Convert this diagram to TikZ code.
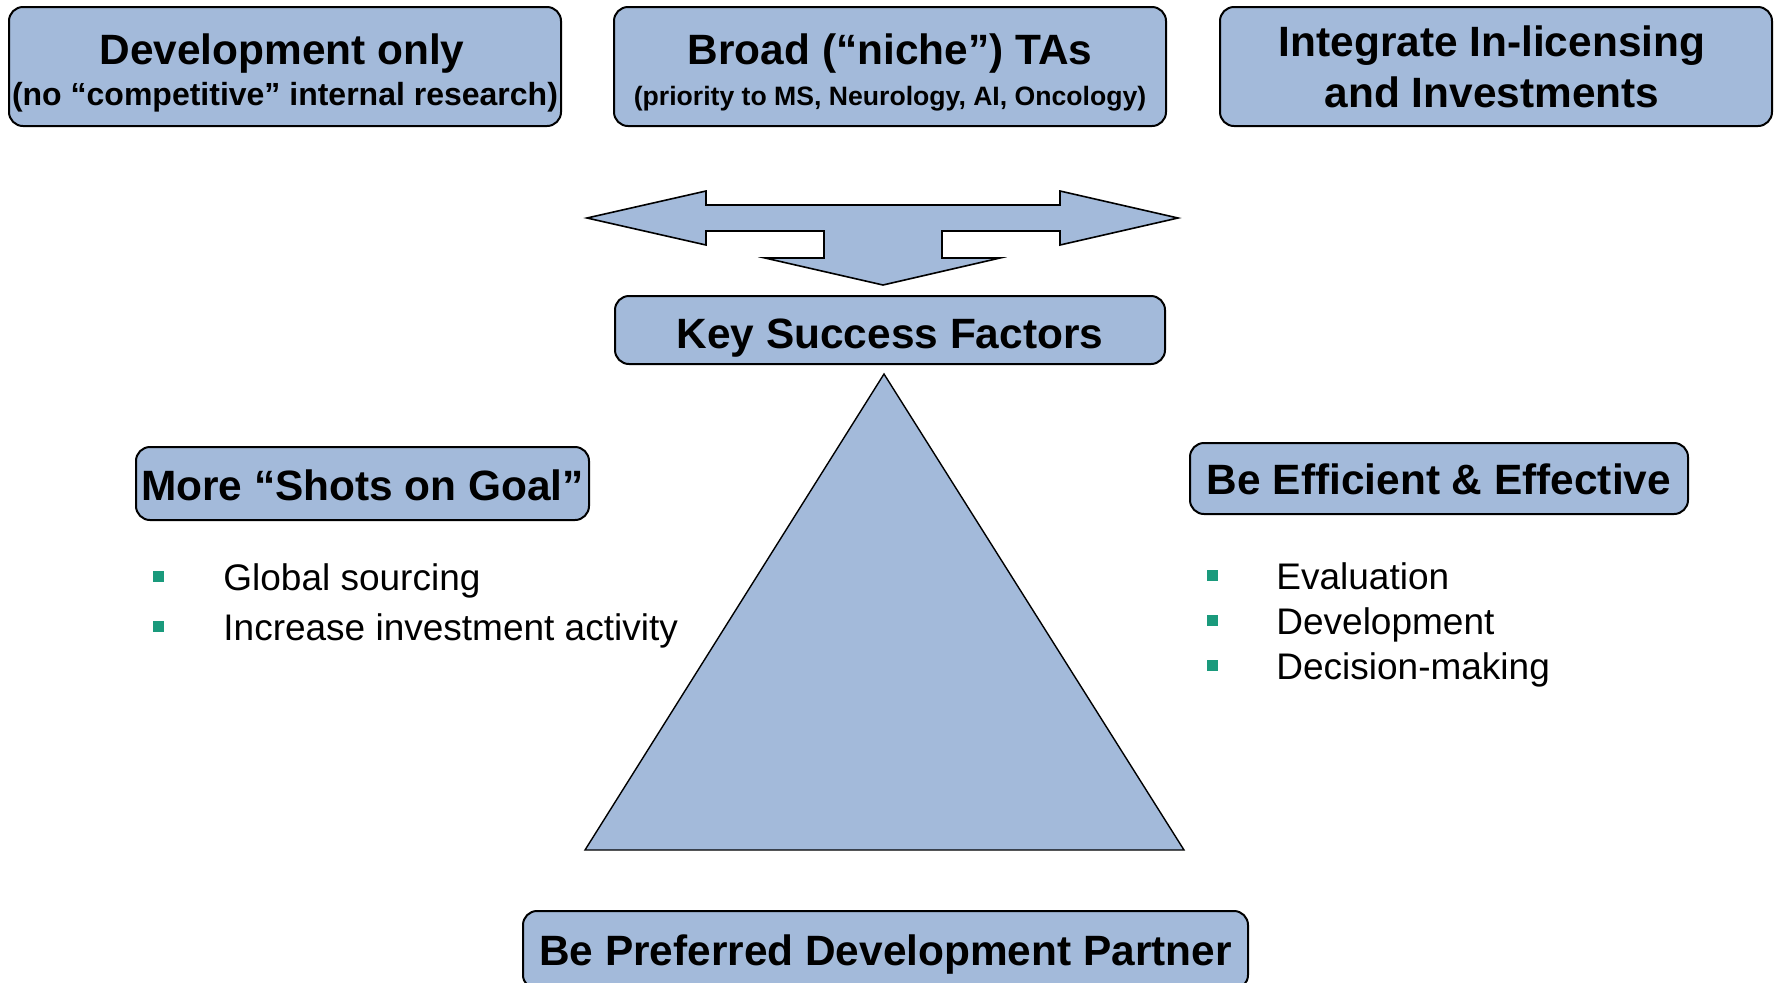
\documentclass[tikz,border=0pt]{standalone}
\usepackage{fontspec}
\setmainfont{Liberation Sans}
\definecolor{boxfill}{RGB}{163,186,218}
\definecolor{bulletgreen}{RGB}{26,154,124}
\tikzset{
  pbox/.style={draw=black, line width=1pt, fill=boxfill, rounded corners=7pt, inner sep=0pt},
  bigtxt/.style={font=\bfseries\fontsize{21.2}{24}\selectfont, inner sep=0pt, anchor=base},
  midtxt/.style={font=\bfseries\fontsize{16}{19}\selectfont, inner sep=0pt, anchor=base},
  smalltxt/.style={font=\bfseries\fontsize{13.3}{16}\selectfont, inner sep=0pt, anchor=base},
  bultxt/.style={font=\fontsize{18.5}{22}\selectfont, inner sep=0pt, anchor=base west},
  bulsq/.style={fill=bulletgreen, minimum size=5.5pt, inner sep=0pt},
  shapeline/.style={draw=black, line width=0.8pt, fill=boxfill, line join=miter}
}
\begin{document}
\begin{tikzpicture}[x=0.5pt, y=-0.5pt]
\useasboundingbox (0,0) rectangle (1774,982);

% top boxes
\node[pbox, minimum width=276pt, minimum height=59.5pt] (b1) at (285,66.5) {};
\node[bigtxt] (b1a) at (282,64) {Development only};
\node[midtxt] (b1b) at (285,105) {(no “competitive” internal research)};

\node[pbox, minimum width=276pt, minimum height=59.5pt] (b2) at (890,66.5) {};
\node[bigtxt] (b2a) at (890,64) {Broad (“niche”) TAs};
\node[smalltxt] (b2b) at (890,105) {(priority to MS, Neurology, AI, Oncology)};

\node[pbox, minimum width=276pt, minimum height=59.5pt] (b3) at (1496,66.5) {};
\node[bigtxt] (b3a) at (1492,56) {Integrate In-licensing};
\node[bigtxt] (b3b) at (1492,107) {and Investments};

% three-way arrow
\draw[shapeline] (587,218) -- (706,191) -- (706,205) -- (1060,205) -- (1060,191)
  -- (1178,218) -- (1060,245) -- (1060,231) -- (942,231) -- (942,258) -- (1000,258)
  -- (883,285) -- (765,258) -- (824,258) -- (824,231) -- (706,231) -- (706,245) -- cycle;

% key success factors
\node[pbox, minimum width=275pt, minimum height=34pt] (ksf) at (890,330) {};
\node[bigtxt] (ksft) at (890,348) {Key Success Factors};

% triangle
\draw[shapeline, line width=0.7pt] (884,374) -- (1184,850) -- (585,850) -- cycle;

% left side
\node[pbox, minimum width=226.5pt, minimum height=36.5pt] (msg) at (362.5,483.5) {};
\node[bigtxt] (msgt) at (362.5,500) {More “Shots on Goal”};
\node[bulsq] (lq1) at (158.5,576.5) {};
\node[bulsq] (lq2) at (158.5,626.5) {};
\node[bultxt] (lt1) at (223,590) {Global sourcing};
\node[bultxt] (lt2) at (223,640) {Increase investment activity};

% right side
\node[pbox, minimum width=249pt, minimum height=35.5pt] (eff) at (1439,478.5) {};
\node[bigtxt] (efft) at (1439,494) {Be Efficient \& Effective};
\node[bulsq] (rq1) at (1212,575.5) {};
\node[bulsq] (rq2) at (1212,620.5) {};
\node[bulsq] (rq3) at (1212,665) {};
\node[bultxt] (rt1) at (1276,589) {Evaluation};
\node[bultxt] (rt2) at (1276,634) {Development};
\node[bultxt] (rt3) at (1276,679) {Decision-making};

% bottom box
\node[pbox, minimum width=362.5pt, minimum height=39pt] (bot) at (885.5,950) {};
\node[bigtxt] (bott) at (885.5,965) {Be Preferred Development Partner};
\end{tikzpicture}
\end{document}
